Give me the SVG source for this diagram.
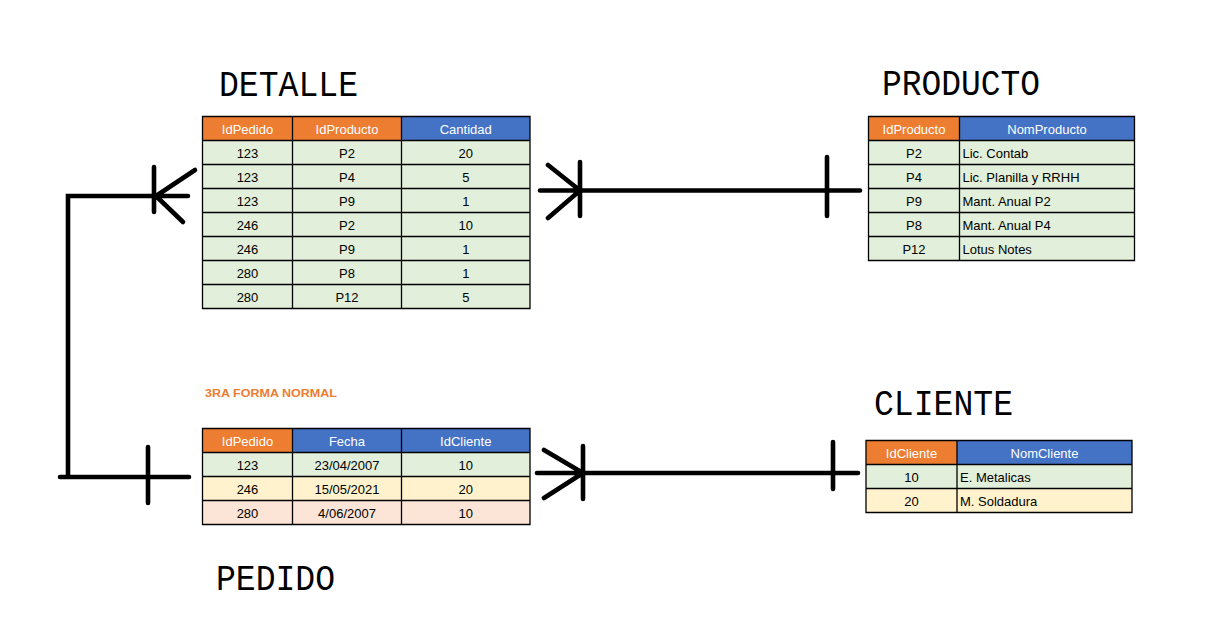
<svg xmlns="http://www.w3.org/2000/svg" width="1216" height="636" viewBox="0 0 1216 636">
<style>
.o{fill:#ED7D31}.b{fill:#4472C4}.g{fill:#E2EFDA}.y{fill:#FFF2CC}.p{fill:#FCE4D6}
.grid{stroke:#000;stroke-width:1.3;fill:none}
.t{font-family:"Liberation Sans",Arial,sans-serif;font-size:13px;fill:#000;text-anchor:middle}
.h{fill:#fff}
.l{text-anchor:start}
.title{font-family:"Liberation Mono","DejaVu Sans Mono",monospace;font-size:37px;fill:#000}
.note{font-family:"Liberation Sans",Arial,sans-serif;font-size:11.5px;font-weight:bold;fill:#ED7D31}
.conn{stroke:#000;stroke-width:4.6;stroke-linecap:round;stroke-linejoin:miter;fill:none}
</style>
<rect width="1216" height="636" fill="#fff"/>

<g id="detalle">
<text class="title" x="219" y="96" textLength="139" lengthAdjust="spacingAndGlyphs">DETALLE</text>
<rect class="o" x="202.5" y="116.5" width="199" height="24"/>
<rect class="b" x="401.5" y="116.5" width="128.5" height="24"/>
<rect class="g" x="202.5" y="140.5" width="327.5" height="168"/>
<path class="grid" d="M202.5,116.5H530V308.5H202.5Z M292.5,116.5V308.5 M401.5,116.5V308.5 M202.5,140.5H530 M202.5,164.5H530 M202.5,188.5H530 M202.5,212.5H530 M202.5,236.5H530 M202.5,260.5H530 M202.5,284.5H530"/>
<text class="t h" x="247.5" y="134">IdPedido</text><text class="t h" x="347" y="134">IdProducto</text><text class="t h" x="465.75" y="134">Cantidad</text>
<text class="t" x="247.5" y="158">123</text><text class="t" x="347" y="158">P2</text><text class="t" x="465.75" y="158">20</text>
<text class="t" x="247.5" y="182">123</text><text class="t" x="347" y="182">P4</text><text class="t" x="465.75" y="182">5</text>
<text class="t" x="247.5" y="206">123</text><text class="t" x="347" y="206">P9</text><text class="t" x="465.75" y="206">1</text>
<text class="t" x="247.5" y="230">246</text><text class="t" x="347" y="230">P2</text><text class="t" x="465.75" y="230">10</text>
<text class="t" x="247.5" y="254">246</text><text class="t" x="347" y="254">P9</text><text class="t" x="465.75" y="254">1</text>
<text class="t" x="247.5" y="278">280</text><text class="t" x="347" y="278">P8</text><text class="t" x="465.75" y="278">1</text>
<text class="t" x="247.5" y="302">280</text><text class="t" x="347" y="302">P12</text><text class="t" x="465.75" y="302">5</text>
</g>

<g id="producto">
<text class="title" x="882" y="95" textLength="158" lengthAdjust="spacingAndGlyphs">PRODUCTO</text>
<rect class="o" x="868.5" y="116.5" width="91" height="24"/>
<rect class="b" x="959.5" y="116.5" width="175" height="24"/>
<rect class="g" x="868.5" y="140.5" width="266" height="120"/>
<path class="grid" d="M868.5,116.5H1134.5V260.5H868.5Z M959.5,116.5V260.5 M868.5,140.5H1134.5 M868.5,164.5H1134.5 M868.5,188.5H1134.5 M868.5,212.5H1134.5 M868.5,236.5H1134.5"/>
<text class="t h" x="914" y="134">IdProducto</text><text class="t h" x="1047" y="134">NomProducto</text>
<text class="t" x="914" y="158">P2</text><text class="t l" x="962.5" y="158">Lic. Contab</text>
<text class="t" x="914" y="182">P4</text><text class="t l" x="962.5" y="182">Lic. Planilla y RRHH</text>
<text class="t" x="914" y="206">P9</text><text class="t l" x="962.5" y="206">Mant. Anual P2</text>
<text class="t" x="914" y="230">P8</text><text class="t l" x="962.5" y="230">Mant. Anual P4</text>
<text class="t" x="914" y="254">P12</text><text class="t l" x="962.5" y="254">Lotus Notes</text>
</g>

<text class="note" x="205" y="397" textLength="132" lengthAdjust="spacingAndGlyphs">3RA FORMA NORMAL</text>

<g id="pedido">
<text class="title" x="216" y="590" textLength="119" lengthAdjust="spacingAndGlyphs">PEDIDO</text>
<rect class="o" x="202.5" y="428.5" width="90" height="24"/>
<rect class="b" x="292.5" y="428.5" width="237.5" height="24"/>
<rect class="g" x="202.5" y="452.5" width="327.5" height="24"/>
<rect class="y" x="202.5" y="476.5" width="327.5" height="24"/>
<rect class="p" x="202.5" y="500.5" width="327.5" height="24"/>
<path class="grid" d="M202.5,428.5H530V524.5H202.5Z M292.5,428.5V524.5 M401.5,428.5V524.5 M202.5,452.5H530 M202.5,476.5H530 M202.5,500.5H530"/>
<text class="t h" x="247.5" y="446">IdPedido</text><text class="t h" x="347" y="446">Fecha</text><text class="t h" x="465.75" y="446">IdCliente</text>
<text class="t" x="247.5" y="470">123</text><text class="t" x="347" y="470">23/04/2007</text><text class="t" x="465.75" y="470">10</text>
<text class="t" x="247.5" y="494">246</text><text class="t" x="347" y="494">15/05/2021</text><text class="t" x="465.75" y="494">20</text>
<text class="t" x="247.5" y="518">280</text><text class="t" x="347" y="518">4/06/2007</text><text class="t" x="465.75" y="518">10</text>
</g>

<g id="cliente">
<text class="title" x="874" y="415" textLength="139" lengthAdjust="spacingAndGlyphs">CLIENTE</text>
<rect class="o" x="866" y="440.5" width="91" height="24"/>
<rect class="b" x="957" y="440.5" width="175" height="24"/>
<rect class="g" x="866" y="464.5" width="266" height="24"/>
<rect class="y" x="866" y="488.5" width="266" height="24"/>
<path class="grid" d="M866,440.5H1132V512.5H866Z M957,440.5V512.5 M866,464.5H1132 M866,488.5H1132"/>
<text class="t h" x="911.5" y="458">IdCliente</text><text class="t h" x="1044.5" y="458">NomCliente</text>
<text class="t" x="911.5" y="482">10</text><text class="t l" x="960" y="482">E. Metalicas</text>
<text class="t" x="911.5" y="506">20</text><text class="t l" x="960" y="506">M. Soldadura</text>
</g>

<g id="connectors">
<path class="conn" d="M68,476V196H188"/>
<path class="conn" d="M154,167V212 M156,196L195,170 M156,196L183,222"/>
<path class="conn" d="M60,477H189 M148,447V503"/>
<path class="conn" d="M540,190.5H860 M580,162V216 M548,165L580,190.5 M548,218L580,190.5 M827,157V216"/>
<path class="conn" d="M537,473H858 M583,446V499 M544,450L583,473 M544,498L583,473 M833,442V489"/>
</g>
</svg>
